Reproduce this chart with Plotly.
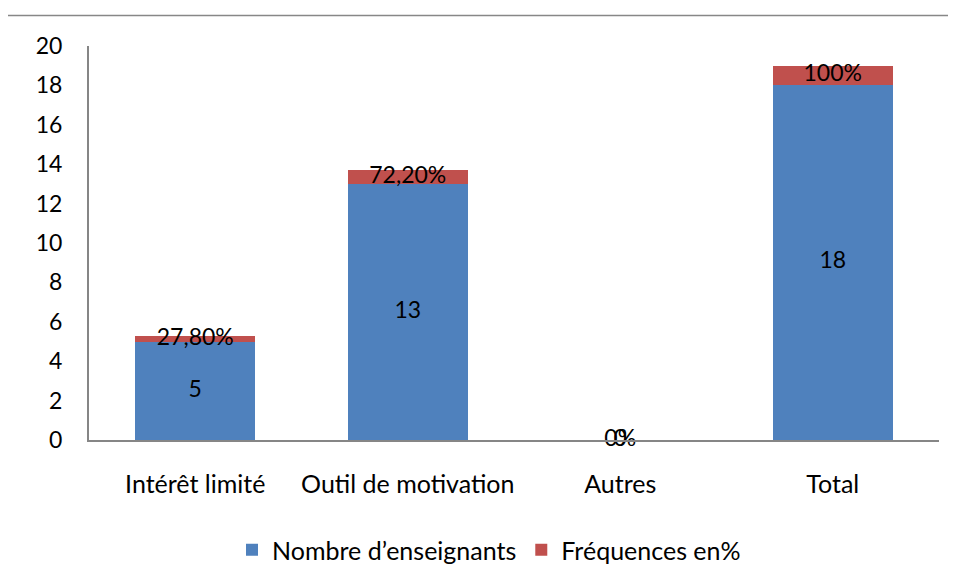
import plotly.graph_objects as go

categories = ["Intérêt limité", "Outil de motivation", "Autres", "Total"]
nombre = [5, 13, 0, 18]
frequences = [0.278, 0.722, 0, 1.0]
nombre_labels = ["5", "13", "0", "18"]
freq_labels = ["27,80%", "72,20%", "0%", "100%"]
y_ticks = list(range(0, 21, 2))

BLUE = "#4F81BD"
RED = "#C0504D"
FONT = dict(family="Lato", size=25, color="#000000")
NUMFONT = dict(family="Lato", size=23, color="#000000")

fig = go.Figure()
fig.add_trace(go.Bar(x=categories, y=nombre, name="Nombre d\u2019enseignants",
                     marker=dict(color=BLUE, line=dict(width=0))))
fig.add_trace(go.Bar(x=categories, y=frequences, name="Fréquences en%",
                     marker=dict(color=RED, line=dict(width=0))))

# data labels
fig.add_trace(go.Scatter(x=categories, y=[v / 2 for v in nombre], mode="text",
                         text=nombre_labels, textposition="middle center",
                         textfont=NUMFONT, showlegend=False, hoverinfo="skip", cliponaxis=False))
fig.add_trace(go.Scatter(x=categories, y=[n + f / 2 for n, f in zip(nombre, frequences)],
                         mode="text", text=freq_labels, textposition="middle center",
                         textfont=NUMFONT, showlegend=False, hoverinfo="skip", cliponaxis=False))

# page body has an 8px margin: work in screen pixels, figure is offset by 8
OFF = 8
W, H = 948, 573
L, T = 89 - OFF, 46 - OFF
R = W - (939 - OFF)
B = H - (440 - OFF)
pw, ph = W - L - R, H - T - B

def px_x(s):
    return (s - OFF - L) / pw

def px_y(s):
    return (H - B - (s - OFF)) / ph

fig.update_layout(
    width=W, height=H,
    margin=dict(l=L, r=R, t=T, b=B, pad=0, autoexpand=False),
    barmode="stack",
    bargap=0.435,
    plot_bgcolor="white",
    paper_bgcolor="white",
    font=FONT,
    showlegend=True,
    legend=dict(orientation="h", x=px_x(232), xanchor="left", y=px_y(550), yanchor="middle",
                font=FONT, traceorder="normal", bgcolor="rgba(0,0,0,0)"),
    xaxis=dict(showline=True, linecolor="#868686", linewidth=2, ticks="", showgrid=False,
               tickfont=FONT, ticklabelstandoff=21, fixedrange=True, automargin=False),
    yaxis=dict(range=[0, 20], tickvals=y_ticks, showline=True, linecolor="#868686", linewidth=2,
               ticks="", showgrid=False, zeroline=False, tickfont=NUMFONT, ticklabelstandoff=20,
               automargin=False),
    shapes=[dict(type="rect", xref="paper", yref="paper",
                 x0=px_x(4.5), x1=px_x(1000), y0=px_y(640), y1=px_y(15.5),
                 line=dict(color="#878787", width=1.5), fillcolor="rgba(0,0,0,0)", layer="below")],
)

fig.write_html("out.html")
